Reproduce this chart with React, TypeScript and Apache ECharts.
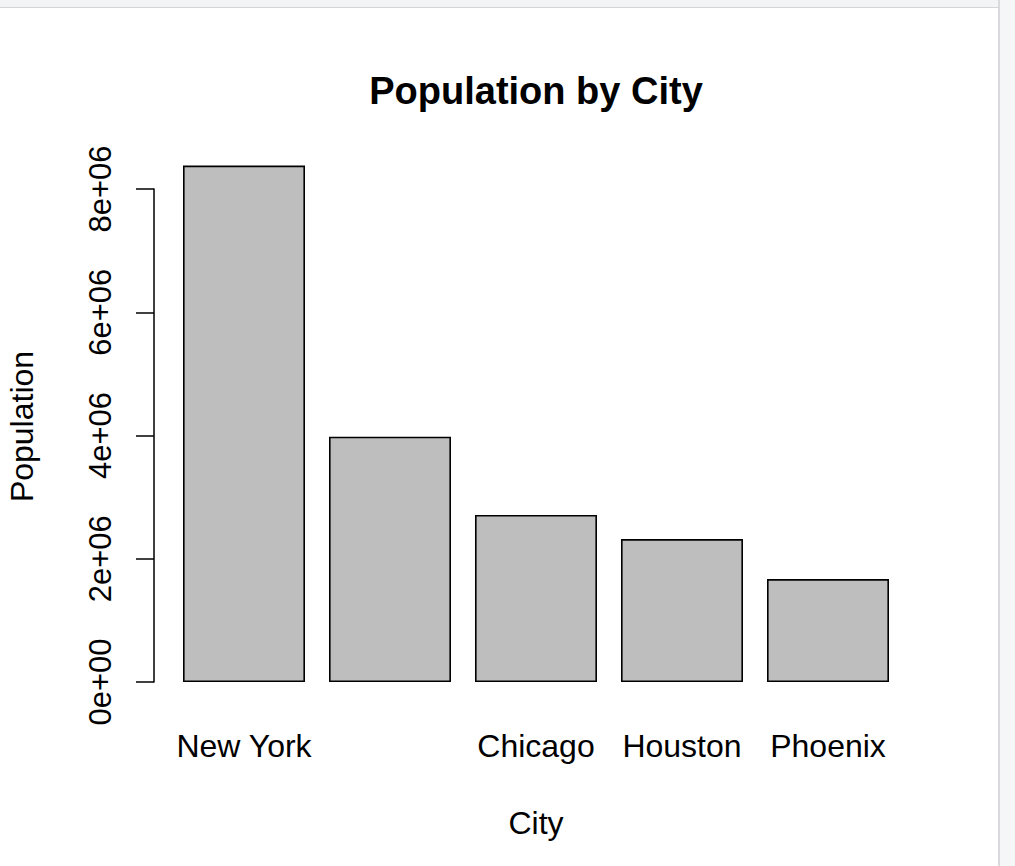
import React, { useEffect, useRef } from "react";
import * as echarts from "echarts";

const cities = ["New York", "Los Angeles", "Chicago", "Houston", "Phoenix"];
const population = [8380000, 3980000, 2710000, 2320000, 1670000];
const titleText = "Population by City";
const xTitle = "City";
const yTitle = "Population";

const fmt = (v: number) => {
  if (v === 0) return "0e+00";
  const e = Math.floor(Math.log10(v));
  const m = v / Math.pow(10, e);
  return `${m}e+${String(e).padStart(2, "0")}`;
};

export default function App() {
  const ref = useRef<HTMLDivElement>(null);
  useEffect(() => {
    if (!ref.current) return;
    const chart = echarts.init(ref.current, null, { renderer: "svg" });
    const font = "Liberation Sans, Arial, sans-serif";
    chart.setOption({
      animation: false,
      backgroundColor: "#ffffff",
      title: {
        text: titleText,
        left: 531,
        top: 67,
        textAlign: "center",
        textStyle: { fontFamily: font, fontSize: 38, fontWeight: "bold", color: "#000" },
      },
      grid: {
        left: 171,
        right: 1015 - 901,
        top: 189,
        bottom: 866 - 682,
        outerBoundsMode: "none",
        containLabel: false,
      },
      xAxis: {
        type: "category",
        data: cities,
        name: xTitle,
        nameLocation: "middle",
        nameGap: 125,
        nameTextStyle: { fontFamily: font, fontSize: 32, color: "#000" },
        axisLine: { show: false },
        axisTick: { show: false },
        axisLabel: {
          interval: (i: number) => i !== 1,
          margin: 48,
          fontFamily: font,
          fontSize: 32,
          color: "#000",
        },
      },
      yAxis: {
        type: "value",
        min: 0,
        max: 8000000,
        interval: 2000000,
        offset: 17,
        name: yTitle,
        nameLocation: "middle",
        nameGap: 116,
        nameRotate: 90,
        nameTextStyle: { fontFamily: font, fontSize: 32, color: "#000", padding: [0, 0, 0, 18] },
        splitLine: { show: false },
        axisLine: { show: true, lineStyle: { color: "#000", width: 1.5 } },
        axisTick: { show: true, length: 18, inside: false, lineStyle: { color: "#000", width: 1.5 } },
        axisLabel: {
          rotate: 90,
          margin: 38,
          fontFamily: font,
          fontSize: 31,
          color: "#000",
          formatter: (v: number) => fmt(v),
        },
      },
      series: [
        {
          type: "bar",
          data: population,
          barWidth: 122,
          clip: false,
          itemStyle: { color: "#bebebe", borderColor: "#000", borderWidth: 1.6 },
        },
      ],
      graphic: [
        { type: "rect", shape: { x: 0, y: 0, width: 1015, height: 7 }, style: { fill: "#f3f4f6" }, z: 100 },
        { type: "rect", shape: { x: 0, y: 7, width: 998, height: 1 }, style: { fill: "#d3d5d9" }, z: 100 },
        { type: "rect", shape: { x: 998, y: 0, width: 2, height: 866 }, style: { fill: "#d8dadd" }, z: 100 },
        { type: "rect", shape: { x: 1000, y: 0, width: 15, height: 866 }, style: { fill: "#f5f6f8" }, z: 100 },
      ],
    });
    return () => chart.dispose();
  }, []);
  return (
    <div
      ref={ref}
      style={{ position: "absolute", left: 0, top: 0, width: 1015, height: 866 }}
    />
  );
}
